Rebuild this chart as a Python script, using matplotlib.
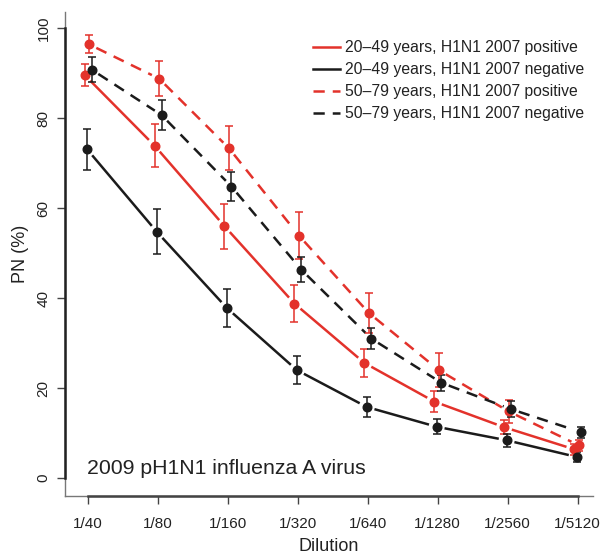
import numpy as np
import matplotlib
matplotlib.use('Agg')
import matplotlib.pyplot as plt
from matplotlib.lines import Line2D

plt.rcParams['font.family'] = ['Liberation Sans', 'DejaVu Sans']

dilutions = ['1/40', '1/80', '1/160', '1/320', '1/640', '1/1280', '1/2560', '1/5120']

pos_20_49 = [89.6, 73.9, 56.0, 38.8, 25.6, 17.0, 11.3, 6.4]
pos_20_49_err = [2.5, 4.8, 5.0, 4.2, 3.1, 2.3, 1.6, 1.2]
neg_20_49 = [73.1, 54.7, 37.8, 24.0, 15.8, 11.4, 8.4, 4.7]
neg_20_49_err = [4.6, 5.0, 4.3, 3.2, 2.2, 1.7, 1.5, 1.1]
pos_50_79 = [96.4, 88.8, 73.3, 53.9, 36.7, 24.0, 14.8, 7.3]
pos_50_79_err = [2.0, 3.8, 4.9, 5.2, 4.5, 3.8, 2.6, 1.2]
neg_50_79 = [90.8, 80.7, 64.8, 46.3, 31.0, 21.2, 15.3, 10.2]
neg_50_79_err = [2.7, 3.3, 3.3, 2.8, 2.4, 1.8, 1.8, 1.2]

labels = ['20\u201349 years, H1N1 2007 positive',
          '20\u201349 years, H1N1 2007 negative',
          '50\u201379 years, H1N1 2007 positive',
          '50\u201379 years, H1N1 2007 negative']

red = '#e3322b'
blk = '#1b1b1b'
dash = (0, (4.5, 3.2))

series = [
    (pos_20_49, pos_20_49_err, red, '-', -0.05),
    (neg_20_49, neg_20_49_err, blk, '-', -0.015),
    (pos_50_79, pos_50_79_err, red, dash, 0.015),
    (neg_50_79, neg_50_79_err, blk, dash, 0.05),
]

fig = plt.figure(figsize=(6.03, 5.55), dpi=100)
ax = fig.add_axes([65/603, 1-495.6/555, 528/603, 483.6/555])
ax.set_xlim(-0.33, 7.22)
ax.set_ylim(-3.9, 103.6)

x = np.arange(len(dilutions))
gap = 8.0  # pixels left empty around each point, like R type="b"

for vals, errs, col, ls, off in series:
    xs = x + off
    pts = ax.transData.transform(np.column_stack([xs, vals]))
    for i in range(len(pts) - 1):
        p0, p1 = pts[i], pts[i+1]
        d = p1 - p0
        n = np.hypot(*d)
        a = p0 + d / n * gap
        b = p1 - d / n * gap
        seg = ax.transData.inverted().transform(np.array([a, b]))
        ax.plot(seg[:, 0], seg[:, 1], color=col, lw=1.8, linestyle=ls,
                solid_capstyle='butt', dash_capstyle='butt', zorder=2)
    ax.errorbar(xs, vals, yerr=errs, fmt='o', color=col, ms=6.2,
                elinewidth=1.1, capsize=2.6, capthick=1.1, zorder=3)

# box (grey) and axis lines (dark)
for s in ['top', 'right']:
    ax.spines[s].set_visible(False)
for s in ['left', 'bottom']:
    ax.spines[s].set_color('#777777')
    ax.spines[s].set_linewidth(1.0)
ax.plot([-0.33, -0.33], [0, 100], color='#222222', lw=1.8, clip_on=False, zorder=5)
ax.plot([0, 7], [-3.9, -3.9], color='#444444', lw=1.8, clip_on=False, zorder=5)

ax.set_xticks(x)
ax.set_xticklabels(dilutions)
ax.set_yticks([0, 20, 40, 60, 80, 100])
ax.set_yticklabels(['0', '20', '40', '60', '80', '100'], rotation=90, va='center')
ax.tick_params(axis='both', direction='out', length=5.5, width=1.0,
               color='#444444', labelsize=11, labelcolor='#222222')
ax.tick_params(axis='x', pad=10)
ax.tick_params(axis='y', pad=5)

ax.set_xlabel('Dilution', fontsize=13, color='#222222', labelpad=5)
ax.set_ylabel('PN (%)', fontsize=13, color='#222222', labelpad=5)

ax.text(-0.015, 0.9, '2009 pH1N1 influenza A virus', fontsize=15.3,
        color='#222222', va='baseline', ha='left')

handles = [Line2D([], [], color=c, lw=1.8, linestyle=ls) for _, _, c, ls, _ in series]
leg = ax.legend(handles, labels, loc='upper left', frameon=False,
                bbox_to_anchor=(313/603, 1-40/555), bbox_transform=fig.transFigure,
                fontsize=11.3, handlelength=1.7, handletextpad=0.35,
                labelspacing=0.45, borderpad=0, borderaxespad=0)
for t in leg.get_texts():
    t.set_color('#222222')

fig.savefig('out.png', dpi=100)
